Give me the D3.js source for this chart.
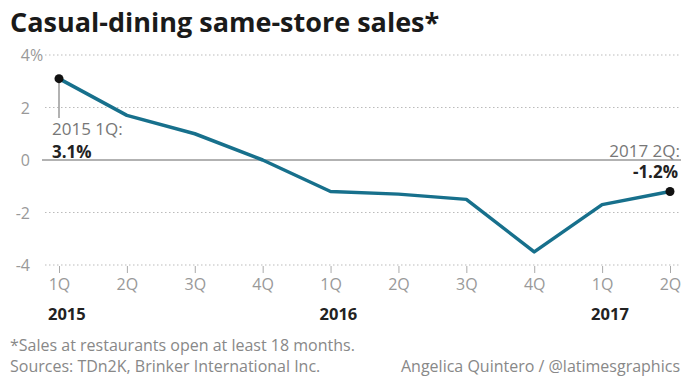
<!DOCTYPE html>
<html>
<head>
<meta charset="utf-8">
<script src="https://cdn.jsdelivr.net/npm/d3@7"></script>
<style>
  body { margin: 0; background: #fff; }
  svg text { font-family: "Open Sans", Roboto, sans-serif; }
</style>
</head>
<body>
<div id="chart"></div>
<script>
var quarters = ["1Q", "2Q", "3Q", "4Q", "1Q", "2Q", "3Q", "4Q", "1Q", "2Q"];
var years = ["2015", "", "", "", "2016", "", "", "", "2017", ""];
var sales = [3.1, 1.7, 1.0, 0.0, -1.2, -1.3, -1.5, -3.5, -1.7, -1.2];
var yTicks = [4, 2, 0, -2, -4];

var width = 682, height = 378;

var svg = d3.select("#chart").append("svg")
  .attr("width", width)
  .attr("height", height);

var x = d3.scaleLinear()
  .domain([0, quarters.length - 1])
  .range([59, 670]);

var y = d3.scaleLinear()
  .domain([-4, 4])
  .range([265, 55]);

var pct = function(v) { return v.toFixed(1) + "%"; };

// title
svg.append("text")
  .attr("x", 10)
  .attr("y", 32)
  .style("font-size", "27px")
  .style("font-weight", "bold")
  .style("fill", "#1a1a1a")
  .text("Casual-dining same-store sales*");

// gridlines
svg.selectAll(".grid")
  .data(yTicks)
  .enter().append("line")
  .attr("class", "grid")
  .attr("x1", function(d) { return d == 0 ? 42 : 45; })
  .attr("x2", 681)
  .attr("y1", function(d) { return y(d); })
  .attr("y2", function(d) { return y(d); })
  .style("stroke", function(d) { return d == 0 ? "#999" : "#bbb"; })
  .style("stroke-width", function(d) { return d == 0 ? 1.5 : 1; })
  .style("stroke-dasharray", function(d) { return d == 0 ? null : "1.5,2.5"; });

// y labels
svg.selectAll(".ylab")
  .data(yTicks)
  .enter().append("text")
  .attr("class", "ylab")
  .attr("x", 30)
  .attr("y", function(d) { return y(d) + 6; })
  .style("font-size", "16px")
  .style("fill", "#999")
  .style("text-anchor", "end")
  .text(function(d) { return d; });

svg.append("text")
  .attr("x", 30)
  .attr("y", y(4) + 6)
  .style("font-size", "16px")
  .style("fill", "#999")
  .text("%");

// x axis ticks
var xAxis = d3.axisBottom(x)
  .tickValues(d3.range(quarters.length))
  .tickSize(7)
  .tickPadding(6)
  .tickFormat(function(i) { return quarters[i]; });

var gx = svg.append("g")
  .attr("transform", "translate(0," + (y(-4) + 1) + ")")
  .call(xAxis);

gx.select(".domain").remove();
gx.selectAll(".tick line").style("stroke", "#aaa");
gx.selectAll(".tick text")
  .style("font-size", "16px")
  .style("fill", "#999")
  .style("font-family", "'Open Sans', sans-serif");

svg.selectAll(".year")
  .data(years)
  .enter().append("text")
  .attr("class", "year")
  .attr("x", function(d, i) { return x(i) - 11; })
  .attr("y", 320)
  .style("font-size", "16.5px")
  .style("font-weight", "bold")
  .style("fill", "#222")
  .text(function(d) { return d; });

// annotation stem
svg.append("line")
  .attr("x1", x(0)).attr("x2", x(0))
  .attr("y1", y(sales[0])).attr("y2", 118)
  .style("stroke", "#999")
  .style("stroke-width", 1.5);

// line
var line = d3.line()
  .x(function(d, i) { return x(i); })
  .y(function(d) { return y(d); });

svg.append("path")
  .datum(sales)
  .attr("d", line)
  .style("fill", "none")
  .style("stroke", "#17708c")
  .style("stroke-width", 3.5)
  .style("stroke-linejoin", "round");

// end dots
var last = sales.length - 1;
svg.selectAll(".dot")
  .data([0, last])
  .enter().append("circle")
  .attr("class", "dot")
  .attr("cx", function(i) { return x(i); })
  .attr("cy", function(i) { return y(sales[i]); })
  .attr("r", 4.5)
  .style("fill", "#111");

// annotations
svg.append("text")
  .attr("x", 52).attr("y", 135)
  .style("font-size", "17px").style("fill", "#777")
  .text("2015 1Q:");
svg.append("text")
  .attr("x", 52).attr("y", 158)
  .style("font-size", "17px").style("font-weight", "bold").style("fill", "#222")
  .text(pct(sales[0]));

svg.append("text")
  .attr("x", 680).attr("y", 157)
  .style("font-size", "17px").style("fill", "#777")
  .style("text-anchor", "end")
  .text("2017 2Q:");
svg.append("text")
  .attr("x", 678).attr("y", 178)
  .style("font-size", "17px").style("font-weight", "bold").style("fill", "#222")
  .style("text-anchor", "end")
  .text(pct(sales[last]));

// footnotes
svg.append("text")
  .attr("x", 10).attr("y", 351)
  .style("font-size", "16px").style("fill", "#888")
  .text("*Sales at restaurants open at least 18 months.");
svg.append("text")
  .attr("x", 10).attr("y", 372)
  .style("font-size", "16px").style("fill", "#888")
  .text("Sources: TDn2K, Brinker International Inc.");
svg.append("text")
  .attr("x", 680).attr("y", 372)
  .style("font-size", "16px").style("fill", "#888")
  .style("text-anchor", "end")
  .text("Angelica Quintero / @latimesgraphics");
</script>
</body>
</html>
